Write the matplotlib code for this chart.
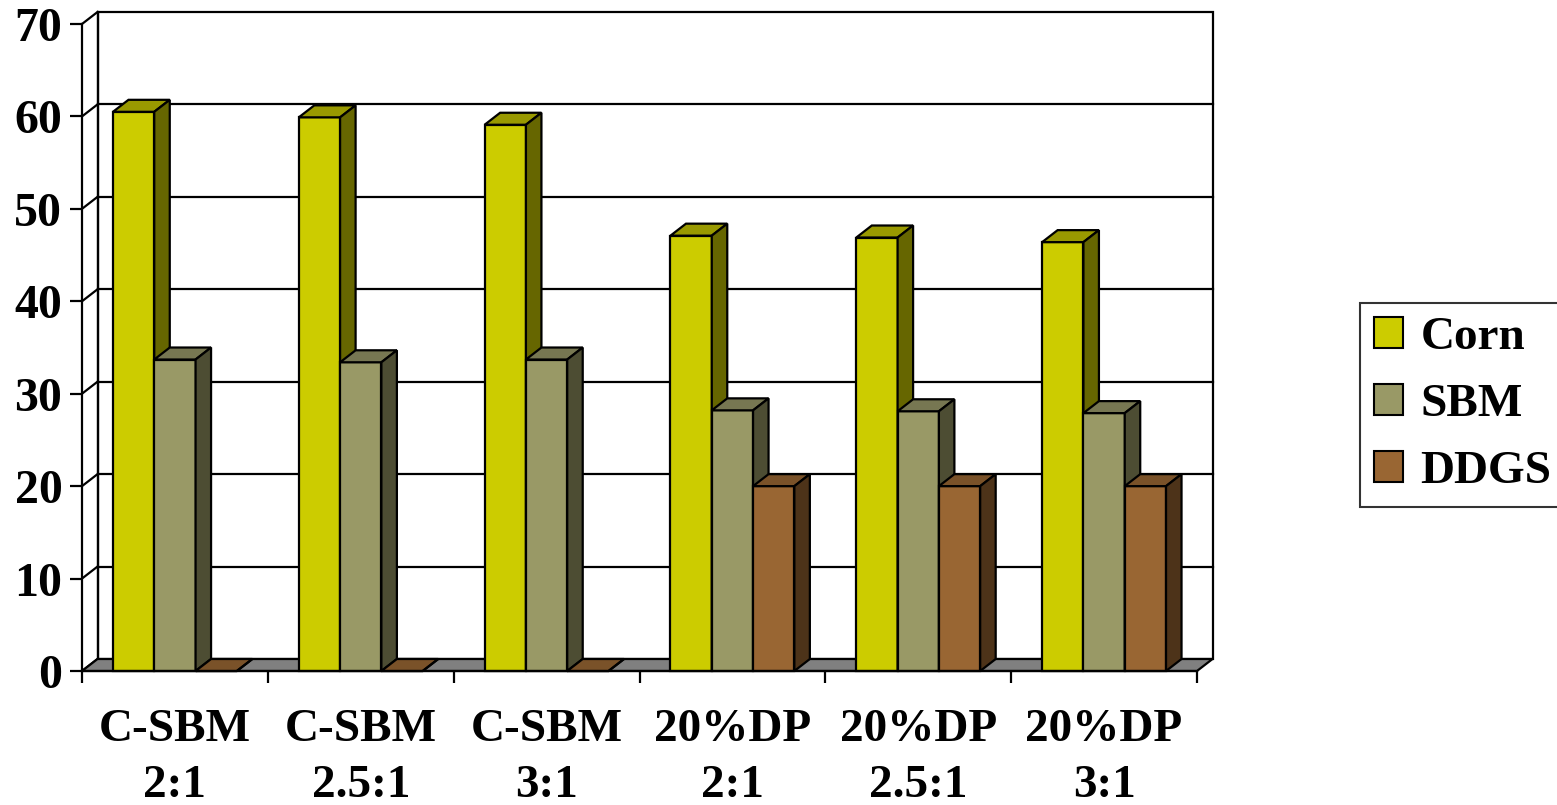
import numpy as np
import matplotlib
matplotlib.use("Agg")
import matplotlib.pyplot as plt
from matplotlib.patches import Polygon, Rectangle, Patch

# ---- data -------------------------------------------------------------
categories = ["C-SBM\n2:1", "C-SBM\n2.5:1", "C-SBM\n3:1",
              "20%DP\n2:1", "20%DP\n2.5:1", "20%DP\n3:1"]
series_names = ["Corn", "SBM", "DDGS"]
corn = [60.5, 59.9, 59.1, 47.1, 46.9, 46.4]
sbm = [33.7, 33.4, 33.7, 28.2, 28.1, 27.9]
ddgs = [0.0, 0.0, 0.0, 20.0, 20.0, 20.0]
y_ticks = list(range(0, 71, 10))

# face colours: front, top, side
shades = {
    "Corn": ("#cccc00", "#999900", "#666600"),
    "SBM": ("#999966", "#777752", "#4d4d33"),
    "DDGS": ("#996633", "#7a5229", "#4d3319"),
}

plt.rcParams["font.family"] = ["Liberation Serif", "DejaVu Serif"]
plt.rcParams["font.weight"] = "bold"

W, H = 1557, 805
fig = plt.figure(figsize=(W / 100, H / 100), dpi=100)
x0, x1, yb, yt = 82, 1197, 671, 24
ax = fig.add_axes([x0 / W, (H - yb) / H, (x1 - x0) / W, (yb - yt) / H])
n = len(categories)
ax.set_xlim(0, n)
ax.set_ylim(0, 70)

# oblique depth offset in data units
px_x = n / (x1 - x0)
px_y = 70 / (yb - yt)
DX = 15.5 * px_x
DY = 12.0 * px_y
LW = 1.6

# back wall and gridlines
ax.add_patch(Rectangle((DX, DY), n, 70, facecolor="white", edgecolor="black",
                       lw=LW, clip_on=False, zorder=0))
for v in y_ticks[1:-1]:
    ax.plot([DX, n + DX], [v + DY, v + DY], color="black", lw=LW,
            clip_on=False, zorder=0.5)
# side wall
for v in y_ticks:
    ax.plot([0, DX], [v, v + DY], color="black", lw=LW, clip_on=False, zorder=0.5)
ax.plot([DX, DX], [DY, 70 + DY], color="black", lw=LW, clip_on=False, zorder=0.5)

# floor
ax.add_patch(Polygon([(0, 0), (n, 0), (n + DX, DY), (DX, DY)], closed=True,
                     facecolor="#808080", edgecolor="black", lw=LW,
                     clip_on=False, zorder=1))

# 3-D looking columns
bw = 1 / 4.5
start = 0.75 * bw
values = [corn, sbm, ddgs]
for i in range(n):
    for s, name in enumerate(series_names):
        v = values[s][i]
        front, top, side = shades[name]
        xl = i + start + s * bw
        xr = xl + bw
        z = 2 + i * 0.1 + s * 0.01
        ax.add_patch(Rectangle((xl, 0), bw, v, facecolor=front, edgecolor="black",
                               lw=LW, clip_on=False, zorder=z))
        ax.add_patch(Polygon([(xl, v), (xr, v), (xr + DX, v + DY), (xl + DX, v + DY)],
                             closed=True, facecolor=top, edgecolor="black", lw=LW,
                             clip_on=False, zorder=z))
        ax.add_patch(Polygon([(xr, 0), (xr + DX, DY), (xr + DX, v + DY), (xr, v)],
                             closed=True, facecolor=side, edgecolor="black", lw=LW,
                             clip_on=False, zorder=z))

# axes
for sp in ["top", "right"]:
    ax.spines[sp].set_visible(False)
for sp in ["left", "bottom"]:
    ax.spines[sp].set_linewidth(LW)
    ax.spines[sp].set_zorder(5)
ax.set_facecolor("none")
ax.set_yticks(y_ticks)
ax.set_yticklabels([str(v) for v in y_ticks], fontsize=34.5, fontweight="bold")
ax.tick_params(axis="y", length=8.6, width=LW, pad=5.5)
ax.set_xticks(np.arange(n) + 0.5)
ax.set_xticklabels(categories, fontsize=34, fontweight="bold", linespacing=1.45)
ax.set_xticks(np.arange(n + 1), minor=True)
ax.tick_params(axis="x", which="major", length=0, pad=27)
ax.tick_params(axis="x", which="minor", length=8.6, width=LW)

# legend
handles = [Patch(facecolor=shades[nm][0], edgecolor="black", lw=1.5) for nm in series_names]
leg = fig.legend(handles, series_names, loc="upper left",
                 bbox_to_anchor=(1360 / W, 1 - 303 / H), borderaxespad=0,
                 prop={"family": "Liberation Serif", "weight": "bold", "size": 34},
                 handlelength=0.62, handleheight=0.62, handletextpad=0.36,
                 labelspacing=0.53, borderpad=0.3, frameon=True, fancybox=False)
leg.get_frame().set_edgecolor("black")
leg.get_frame().set_linewidth(1.5)

fig.savefig("out.png", dpi=100)
